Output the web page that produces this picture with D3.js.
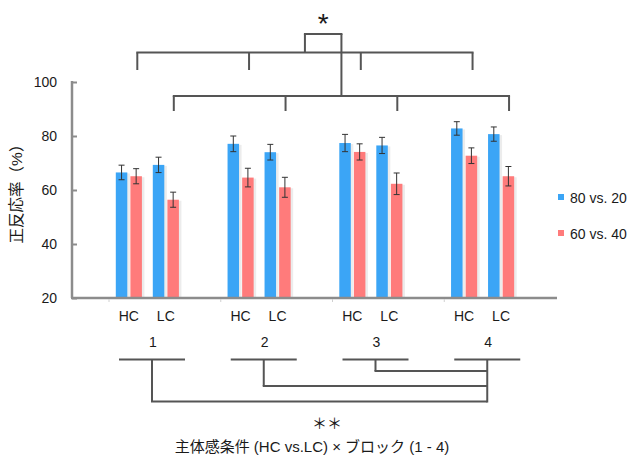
<!DOCTYPE html>
<html>
<head>
<meta charset="utf-8">
<script src="https://cdn.jsdelivr.net/npm/d3@7"></script>
<style>
  body { margin: 0; background: #fff; }
  text { font-family: "Liberation Sans", "Noto Sans CJK JP", sans-serif; fill: #1a1a1a; }
</style>
</head>
<body>
<svg id="chart" width="632" height="461"></svg>
<script>
// Data
const blocks = ["1", "2", "3", "4"];
const conditions = ["HC", "LC"];
const series = ["80 vs. 20", "60 vs. 40"];
const colors = ["#3ba5f6", "#ff7b7b"];
// values in order HC1, LC1, HC2, LC2, ...
const blueValues = [66.5, 69.3, 77.1, 74.0, 77.4, 76.5, 82.8, 80.7];
const blueErrors = [2.7, 2.85, 2.9, 2.9, 3.2, 3.0, 2.5, 2.65];
const redValues = [65.1, 56.4, 64.6, 61.0, 74.1, 62.3, 72.7, 65.1];
const redErrors = [2.8, 2.8, 3.45, 3.7, 3.0, 4.0, 2.9, 3.6];
const yTicks = [20, 40, 60, 80, 100];

const rows = [];
blocks.forEach((b, bi) => {
    conditions.forEach((c, ci) => {
        const k = bi * 2 + ci;
        rows.push({ block: b, cond: c, s: 0, value: blueValues[k], err: blueErrors[k] });
        rows.push({ block: b, cond: c, s: 1, value: redValues[k], err: redErrors[k] });
    });
});

const svg = d3.select("#chart");

// Scales
var y = d3.scaleLinear().domain([20, 100]).range([298, 82]);
var x0 = d3.scaleBand().domain(blocks).range([109, 556]).padding(0);
var x1 = d3.scaleBand().domain(conditions).range([6.8, 80.8]).padding(0);
var x2 = d3.scaleBand().domain([0, 1]).range([0, 26.1]).paddingInner(0.212).paddingOuter(0);

const pairCenter = (b, c) => x0(b) + x1(c) + 13;
const blockCenter = b => x0(b) + 43;

// Bars (with faint shadow)
const bars = svg.append("g");
bars.selectAll(".shadow")
    .data(rows)
    .enter()
    .append("rect")
    .attr("x", d => x0(d.block) + x1(d.cond) + x2(d.s) + 1)
    .attr("y", d => y(d.value) + 1)
    .attr("width", x2.bandwidth() + 1.5)
    .attr("height", d => 298 - y(d.value))
    .attr("fill", "#ececec");
bars.selectAll(".bar")
    .data(rows)
    .enter()
    .append("rect")
    .attr("x", d => x0(d.block) + x1(d.cond) + x2(d.s))
    .attr("y", d => y(d.value))
    .attr("width", x2.bandwidth())
    .attr("height", d => 298 - y(d.value))
    .attr("fill", d => colors[d.s]);

// Error bars
const err = svg.append("g").attr("stroke", "#333").attr("stroke-width", 1);
rows.forEach(d => {
    const cx = x0(d.block) + x1(d.cond) + x2(d.s) + x2.bandwidth() / 2;
    err.append("line").attr("x1", cx).attr("x2", cx).attr("y1", y(d.value + d.err)).attr("y2", y(d.value - d.err));
    err.append("line").attr("x1", cx - 3).attr("x2", cx + 3).attr("y1", y(d.value + d.err)).attr("y2", y(d.value + d.err));
    err.append("line").attr("x1", cx - 3).attr("x2", cx + 3).attr("y1", y(d.value - d.err)).attr("y2", y(d.value - d.err));
});

// Y axis
const yAxis = svg.append("g")
    .attr("transform", "translate(72,0)")
    .call(d3.axisRight(y).tickValues(yTicks).tickSize(5).tickFormat(""));
yAxis.select(".domain").attr("stroke", "#8c8c8c").attr("stroke-width", 2.5).attr("d", "M0,81V298");
yAxis.selectAll(".tick line").attr("stroke", "#8c8c8c").attr("stroke-width", 2);
svg.selectAll(".ylab")
    .data(yTicks)
    .enter()
    .append("text")
    .attr("x", 57)
    .attr("y", d => y(d))
    .attr("dy", "0.36em")
    .attr("text-anchor", "end")
    .attr("font-size", 14)
    .text(d => d);

// X axis
svg.append("line")
    .attr("x1", 71).attr("x2", 557).attr("y1", 298).attr("y2", 298)
    .attr("stroke", "#8c8c8c").attr("stroke-width", 2.5);
svg.append("g").selectAll("line")
    .data(blocks)
    .enter()
    .append("line")
    .attr("x1", d => x0(d)).attr("x2", d => x0(d))
    .attr("y1", 299).attr("y2", 302)
    .attr("stroke", "#d0d0d0").attr("stroke-width", 1);

// Y label
svg.append("text")
    .attr("transform", "translate(22,190) rotate(-90)")
    .attr("text-anchor", "middle")
    .attr("font-size", 15.5)
    .text("正反応率（%）");

// Condition labels
blocks.forEach(b => {
    conditions.forEach(c => {
        svg.append("text")
            .attr("x", pairCenter(b, c))
            .attr("y", 321)
            .attr("text-anchor", "middle")
            .attr("font-size", 14)
            .text(c);
    });
});

// Block numbers and underline
blocks.forEach(b => {
    svg.append("text")
        .attr("x", blockCenter(b) + 1)
        .attr("y", 347)
        .attr("text-anchor", "middle")
        .attr("font-size", 14)
        .text(b);
});

const line = (x1v, y1v, x2v, y2v) => svg.append("line")
    .attr("x1", x1v).attr("y1", y1v).attr("x2", x2v).attr("y2", y2v)
    .attr("stroke", "#555").attr("stroke-width", 2);

blocks.forEach(b => line(blockCenter(b) - 33, 359.5, blockCenter(b) + 33, 359.5));

// Bottom bracket (block comparisons to block 4)
const last = blockCenter("4");
const lowY = [401.5, 386, 371];
blocks.slice(0, 3).forEach((b, i) => {
    line(blockCenter(b), 359.5, blockCenter(b), lowY[i]);
    line(blockCenter(b) - 1, lowY[i], last, lowY[i]);
});
line(last, 359.5, last, 402.5);

svg.append("text")
    .attr("x", 327).attr("y", 429)
    .attr("text-anchor", "middle")
    .attr("font-size", 15)
    .attr("font-family", "Noto Sans CJK JP")
    .attr("fill", "#444")
    .text("＊＊");

svg.append("text")
    .attr("x", 312).attr("y", 452)
    .attr("text-anchor", "middle")
    .attr("font-size", 15)
    .attr("font-family", "Noto Sans CJK JP")
    .text("主体感条件 (HC vs.LC) × ブロック (1 - 4)");

// Top brackets (HC vs LC)
const hcX = blocks.map(b => pairCenter(b, "HC") + 8.5);
const lcX = blocks.map(b => pairCenter(b, "LC") + 8);
line(hcX[0] - 1, 52.5, hcX[3] + 1, 52.5);
hcX.forEach(v => line(v, 52.5, v, 70));
line(lcX[0] - 1, 96, lcX[3] + 1, 96);
lcX.forEach(v => line(v, 96, v, 111));
const hcMid = (hcX[1] + hcX[2]) / 2;
const lcMid = (lcX[1] + lcX[2]) / 2;
line(hcMid, 52.5, hcMid, 34);
line(hcMid - 1, 34, lcMid + 1, 34);
line(lcMid, 34, lcMid, 96);

svg.append("text")
    .attr("x", (hcMid + lcMid) / 2).attr("y", 33)
    .attr("text-anchor", "middle")
    .attr("font-size", 28)
    .attr("fill", "#333")
    .text("*");

// Legend
const legend = svg.append("g");
series.forEach((s, i) => {
    legend.append("rect")
        .attr("x", 558).attr("y", 194 + i * 36)
        .attr("width", 6).attr("height", 6)
        .attr("fill", colors[i]);
    legend.append("text")
        .attr("x", 570).attr("y", 197.5 + i * 36)
        .attr("dy", "0.36em")
        .attr("font-size", 14)
        .text(s);
});
</script>
</body>
</html>
